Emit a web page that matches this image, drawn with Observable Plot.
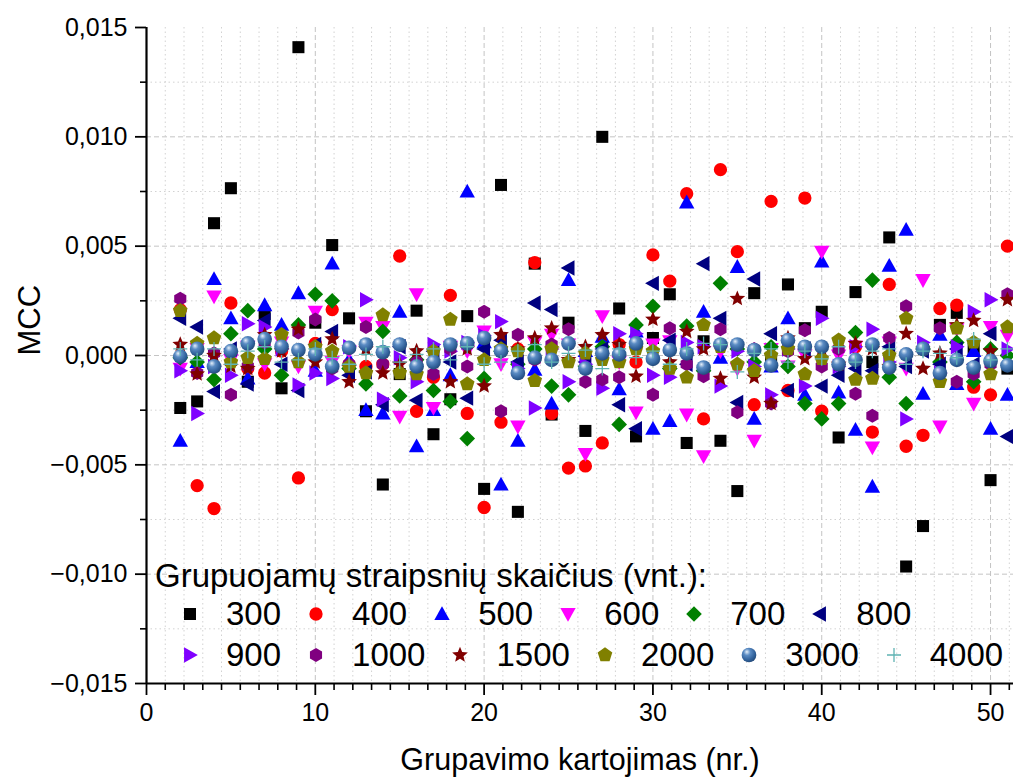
<!DOCTYPE html>
<html>
<head>
<meta charset="utf-8">
<script src="https://cdn.jsdelivr.net/npm/d3@7"></script>
<script src="https://cdn.jsdelivr.net/npm/@observablehq/plot@0.6"></script>
<style>
  body { margin: 0; background: #fff; }
  #wrap { position: relative; width: 1013px; height: 778px; font-family: "Liberation Sans", Arial, sans-serif; color: #000; }
  #legend { position: absolute; left: 155px; top: 559px; font-size: 33px; }
  #legend .title { line-height: 34px; height: 34px; white-space: nowrap; }
  #legend .row { display: flex; align-items: center; height: 41px; }
  #legend .item { display: flex; align-items: center; }
  #legend .item svg { width: 71px; height: 40px; display: block; }
  #legend .item span { line-height: 40px; white-space: nowrap; }
</style>
</head>
<body>
<div id="wrap"></div>
<script>
// ---- data (MCC values in units of 10^-3) ----
const reps = [2,3,4,5,6,7,8,9,10,11,12,13,14,15,16,17,18,19,20,21,22,23,24,25,26,27,28,29,30,31,32,33,34,35,36,37,38,39,40,41,42,43,44,45,46,47,48,49,50,51];
const seriesNames = ["300","400","500","600","700","800","900","1000","1500","2000","3000","4000"];
const s300  = [-2.4,-2.1,6.05,7.65,-1.2,1.9,-1.5,14.1,1.5,5.05,1.7,-2.55,-5.9,-0.85,2.05,-3.6,-2.0,1.8,-6.1,7.8,-7.15,4.2,-2.7,1.5,-3.45,10.0,2.15,-3.7,0.8,2.8,-4.0,0.65,-3.9,-6.2,2.85,-0.2,3.25,1.25,2.0,-3.75,2.9,-0.3,5.4,-9.65,-7.8,1.4,1.95,0.3,-5.7,-0.6];
const s400  = [2.1,-5.95,-7.0,2.4,-0.6,-0.8,0.2,-5.6,0.55,2.1,-0.4,-0.5,-0.4,4.55,-2.55,-1.0,2.75,-2.65,-6.95,-3.05,0.3,4.25,-2.65,-5.15,-5.05,-4.0,0.5,-0.3,4.6,3.4,7.4,-2.9,8.5,4.75,-2.25,7.05,-1.6,7.2,-2.55,-0.4,0.4,-3.5,3.25,-4.15,-3.65,2.15,2.3,-1.45,-1.8,5.0];
const s500  = [-3.9,-0.3,3.5,1.7,-1.05,2.3,1.4,2.85,-0.7,4.2,-0.2,-2.5,-2.65,2.0,-4.15,-2.5,-0.9,7.5,0.6,-5.9,-3.9,-0.65,-2.2,3.45,0.2,0.85,-1.55,1.1,-3.35,-3.0,7.0,2.0,-0.1,4.05,-2.9,-0.5,1.7,-1.8,4.3,-1.7,-3.4,-6.0,4.1,5.75,-1.75,0.95,-1.3,0.2,-3.35,-1.8];
const s600  = [-0.6,0.3,2.7,-0.2,0.4,-0.4,0.6,-0.5,2.0,-0.3,0.2,1.5,1.3,-2.8,2.8,-2.4,0.4,0.2,1.1,-0.4,-3.25,0.6,0.95,0.5,-4.5,1.8,-0.3,-2.6,0.5,0.65,-2.7,-4.6,0.2,-0.6,-3.9,0.3,-0.5,0.0,4.75,0.0,0.4,-4.2,0.6,-0.6,3.45,-3.25,1.2,-2.2,1.3,0.9];
const s700  = [-0.1,-0.3,-1.1,1.0,2.05,0.3,-0.9,1.4,2.8,2.5,-0.6,-1.3,1.1,-1.85,-0.2,-1.6,-2.1,-3.8,-1.05,0.2,-0.4,0.3,-1.4,-1.8,-0.5,0.4,-3.15,1.4,2.25,-0.6,1.35,-0.7,3.3,0.3,-0.3,0.4,-0.5,-2.2,-2.9,-2.2,1.05,3.45,-1.0,-2.2,0.3,-0.3,0.6,-1.2,0.3,0.0];
const s800  = [1.7,1.3,-1.65,0.3,-1.3,1.6,-0.4,-1.6,0.5,1.1,-0.9,-0.75,-2.25,0.4,-2.05,0.2,-0.3,-1.95,0.3,0.7,-0.3,2.4,2.1,4.0,-0.3,0.3,-2.25,-3.35,3.3,0.7,-0.4,4.2,1.7,-2.15,3.5,1.0,-1.6,0.3,-1.4,-0.9,-0.6,-0.7,0.4,-0.5,0.2,-0.4,0.3,-0.4,1.0,-3.7];
const s900  = [-0.7,-2.65,-0.5,-0.9,1.45,1.3,0.3,-1.35,-0.8,-1.05,0.4,2.55,-2.0,-0.1,-1.2,0.5,0.2,0.6,0.9,1.55,-0.6,-2.4,0.3,-1.2,-0.4,-1.5,1.0,1.0,-0.9,-1.0,0.6,0.4,-1.4,0.2,-0.5,-1.8,0.3,-1.4,1.7,-0.5,0.4,1.2,-0.3,-2.9,0.6,-0.8,0.4,2.0,2.55,0.3];
const s1000 = [2.6,-0.8,0.1,-1.8,-0.5,0.6,0.4,1.05,1.65,-0.6,-0.4,1.3,-0.4,0.5,-0.3,-0.85,0.3,-0.5,2.0,-2.55,0.95,-0.2,0.5,1.2,-1.2,-1.1,-1.0,0.4,-1.8,1.25,-0.4,-0.95,1.2,-2.6,0.3,-2.2,0.2,1.15,-0.5,0.3,-1.75,-2.75,0.8,2.25,0.3,1.25,-1.2,-0.85,-0.4,2.8];
const s1500 = [0.5,-0.85,0.0,-0.5,-0.6,0.95,0.2,1.2,-0.3,0.75,-1.2,0.3,-0.8,-0.4,0.2,-0.3,-1.2,0.3,-1.4,0.95,0.3,0.8,1.25,-0.2,0.4,0.95,0.5,-0.95,1.65,-0.3,1.1,0.3,-1.05,2.6,-1.0,-2.2,0.8,-0.15,0.3,-0.4,0.55,0.3,-0.5,1.0,-0.6,0.1,1.4,1.6,0.2,2.55];
const s2000 = [2.05,0.55,0.8,-0.3,-0.1,-0.15,0.95,-0.3,0.4,0.2,-0.5,-0.8,1.85,-0.8,-0.85,0.2,1.65,-1.3,-0.2,0.3,0.2,-1.15,0.3,-0.3,0.1,-0.2,-0.3,0.3,0.2,-0.6,-1.0,1.4,0.4,-0.4,-0.7,0.0,0.3,-0.85,-0.15,0.7,-1.1,-1.05,0.0,1.7,0.3,-1.2,1.25,0.6,-0.85,1.3];
const s3000 = [-0.05,0.3,-0.5,0.2,0.55,0.75,0.4,0.25,0.05,-0.5,0.35,0.5,0.15,0.5,-0.5,-0.3,0.5,0.55,0.8,0.2,-0.8,-0.1,-0.2,0.55,-0.6,0.1,0.05,0.55,-0.15,0.25,0.1,-0.55,0.5,0.5,0.25,-0.45,0.7,0.4,0.4,-0.4,-0.2,0.5,-0.55,0.05,0.3,-0.8,-0.2,-0.55,-0.25,-0.45];
const s4000 = [0.3,-0.2,0.3,-0.4,0.2,0.4,-0.3,-0.2,0.3,-0.1,-0.4,0.05,0.4,-0.3,0.05,0.3,-0.2,0.4,-0.4,-0.3,0.2,0.5,-0.3,0.1,0.25,-0.6,0.3,-0.1,0.2,-0.4,0.3,0.55,0.5,-0.75,0.1,0.3,-0.3,0.2,-0.15,0.4,-0.3,0.2,0.3,-0.4,0.2,0.1,-0.1,0.75,-0.2,0.3];
const seriesValues = [s300,s400,s500,s600,s700,s800,s900,s1000,s1500,s2000,s3000,s4000];

const xTicks = [0,10,20,30,40,50];
const yTicks = [-0.015,-0.010,-0.005,0,0.005,0.010,0.015];
const yMinorTicks = [-0.0125,-0.0075,-0.0025,0.0025,0.0075,0.0125];
const xLabel = "Grupavimo kartojimas (nr.)";
const yLabel = "MCC";
const legendTitle = "Grupuojamų straipsnių skaičius (vnt.):";

// ---- symbols ----
function poly(c, pts) { c.moveTo(pts[0][0], pts[0][1]); for (let i = 1; i < pts.length; i++) c.lineTo(pts[i][0], pts[i][1]); c.closePath(); }
const R = s => Math.sqrt(s / Math.PI);
const symbols = {
  square:   { draw(c, s) { const h = 0.86 * R(s); poly(c, [[-h,-h],[h,-h],[h,h],[-h,h]]); } },
  circle:   { draw(c, s) { const r = 0.95 * R(s); c.moveTo(r, 0); c.arc(0, 0, r, 0, 2 * Math.PI); } },
  triUp:    { draw(c, s) { const r = R(s); poly(c, [[0,-1.12*r],[1.1*r,0.85*r],[-1.1*r,0.85*r]]); } },
  triDown:  { draw(c, s) { const r = R(s); poly(c, [[0,1.12*r],[1.1*r,-0.85*r],[-1.1*r,-0.85*r]]); } },
  triLeft:  { draw(c, s) { const r = R(s); poly(c, [[-1.12*r,0],[0.85*r,-1.1*r],[0.85*r,1.1*r]]); } },
  triRight: { draw(c, s) { const r = R(s); poly(c, [[1.12*r,0],[-0.85*r,-1.1*r],[-0.85*r,1.1*r]]); } },
  diamond:  { draw(c, s) { const r = 1.12 * R(s); poly(c, [[0,-r],[r,0],[0,r],[-r,0]]); } },
  hexagon:  { draw(c, s) { const r = 1.0 * R(s); poly(c, d3.range(6).map(k => [r*Math.cos(-Math.PI/2 + k*Math.PI/3), r*Math.sin(-Math.PI/2 + k*Math.PI/3)])); } },
  star:     { draw(c, s) { const r = 1.18 * R(s), ri = 0.45 * r; poly(c, d3.range(10).map(k => { const a = -Math.PI/2 + k*Math.PI/5, rr = k % 2 ? ri : r; return [rr*Math.cos(a), rr*Math.sin(a)]; })); } },
  pentagon: { draw(c, s) { const r = 1.1 * R(s); poly(c, d3.range(5).map(k => [r*Math.cos(-Math.PI/2 + k*2*Math.PI/5), r*Math.sin(-Math.PI/2 + k*2*Math.PI/5)])); } },
  sphere:   { draw(c, s) { const r = 1.05 * R(s); c.moveTo(r, 0); c.arc(0, 0, r, 0, 2 * Math.PI); } },
  plus:     { draw(c, s) { const r = 1.0 * R(s); c.moveTo(-r, 0); c.lineTo(r, 0); c.moveTo(0, -r); c.lineTo(0, r); } }
};
const styles = [
  { sym: symbols.square,   fill: "#000000" },
  { sym: symbols.circle,   fill: "#ff0000" },
  { sym: symbols.triUp,    fill: "#0000ff" },
  { sym: symbols.triDown,  fill: "#ff00ff" },
  { sym: symbols.diamond,  fill: "#008000" },
  { sym: symbols.triLeft,  fill: "#000080" },
  { sym: symbols.triRight, fill: "#8000ff" },
  { sym: symbols.hexagon,  fill: "#800080" },
  { sym: symbols.star,     fill: "#800000" },
  { sym: symbols.pentagon, fill: "#808000" },
  { sym: symbols.sphere,   fill: "url(#sphereGrad)" },
  { sym: symbols.plus,     fill: "none", stroke: "#5fb3b3", strokeWidth: 1.3 }
];
const MR = 7;

// ---- tick helpers ----
const locale = d3.formatLocale({ decimal: ",", thousands: ".", grouping: [3], currency: ["", ""] });
const yFmt = locale.format(".3f");
const xMinorStep = 10 / 9;
const xMinorTicks = d3.range(0, 51.4, xMinorStep).filter(v => Math.abs(v / 10 - Math.round(v / 10)) > 1e-6);

const rows = seriesValues.map(vals => reps.map((x, i) => ({ x, y: vals[i] / 1000 })));

const dotMarks = rows.map((data, i) => {
  const st = styles[i];
  return Plot.dot(data, {
    x: "x", y: "y", r: MR, symbol: st.sym,
    fill: st.fill, stroke: st.stroke || "none", strokeWidth: st.strokeWidth || 0
  });
});

const chart = Plot.plot({
  width: 1013, height: 778,
  marginLeft: 146, marginRight: 0, marginTop: 27, marginBottom: 95,
  style: { fontFamily: "'Liberation Sans', Arial, sans-serif", background: "white", color: "black", overflow: "visible" },
  x: { domain: [0, 51.36], label: null },
  y: { domain: [-0.015, 0.015], label: null },
  marks: [
    Plot.gridX(xMinorTicks, { stroke: "#d2d2d2", strokeOpacity: 1, strokeDasharray: "1.5,3" }),
    Plot.gridY(yMinorTicks, { stroke: "#d2d2d2", strokeOpacity: 1, strokeDasharray: "1.5,3" }),
    Plot.gridX(xTicks.filter(v => v > 0), { stroke: "#c4c4c4", strokeOpacity: 1, strokeDasharray: "5,3" }),
    Plot.gridY(yTicks.filter(v => v > -0.015 && v < 0.015), { stroke: "#c4c4c4", strokeOpacity: 1, strokeDasharray: "5,3" }),
    ...dotMarks,
    Plot.ruleX([0], { stroke: "black", strokeWidth: 2.2 }),
    Plot.ruleY([-0.015], { stroke: "black", strokeWidth: 2.2 }),
    Plot.axisX(xMinorTicks, { tickSize: 7, strokeWidth: 1.6, tickFormat: () => "", label: null }),
    Plot.axisX(xTicks, { tickSize: 12, strokeWidth: 1.8, tickPadding: 8, fontSize: 25, tickFormat: d => String(d), label: null }),
    Plot.axisY(yMinorTicks, { tickSize: 6, strokeWidth: 1.6, tickFormat: () => "", label: null }),
    Plot.axisY(yTicks, { tickSize: 11, strokeWidth: 1.8, tickPadding: 8, fontSize: 25, tickFormat: yFmt, label: null }),
    Plot.text([xLabel], { frameAnchor: "bottom", dy: 77, lineAnchor: "middle", fontSize: 30.5, fill: "black" }),
    Plot.text([yLabel], { frameAnchor: "left", dx: -116, rotate: -90, lineAnchor: "middle", fontSize: 31, fill: "black" })
  ]
});

// sphere gradient
const defs = d3.select(chart).insert("defs", ":first-child");
const grad = defs.append("radialGradient").attr("id", "sphereGrad").attr("cx", "0.4").attr("cy", "0.35").attr("r", "0.65").attr("fx", "0.35").attr("fy", "0.28");
grad.append("stop").attr("offset", "0%").attr("stop-color", "#e6f0fa");
grad.append("stop").attr("offset", "35%").attr("stop-color", "#5b8cc4");
grad.append("stop").attr("offset", "80%").attr("stop-color", "#2f5f98");
grad.append("stop").attr("offset", "100%").attr("stop-color", "#264d7c");

const wrap = document.getElementById("wrap");
wrap.appendChild(chart);

// ---- legend (overlay inside the plot area) ----
const legend = d3.select(wrap).append("div").attr("id", "legend");
legend.append("div").attr("class", "title").text(legendTitle);
const legendRows = [seriesNames.slice(0, 6), seriesNames.slice(6)];
legendRows.forEach(names => {
  const row = legend.append("div").attr("class", "row");
  names.forEach(name => {
    const i = seriesNames.indexOf(name);
    const st = styles[i];
    const item = row.append("div").attr("class", "item");
    const svg = item.append("svg").attr("viewBox", "-35 -20 71 40");
    svg.append("path")
      .attr("d", d3.symbol(st.sym, Math.PI * MR * MR)())
      .attr("fill", st.fill)
      .attr("stroke", st.stroke || "none")
      .attr("stroke-width", st.strokeWidth || 0);
    item.append("span").text(name);
  });
});
</script>
</body>
</html>
